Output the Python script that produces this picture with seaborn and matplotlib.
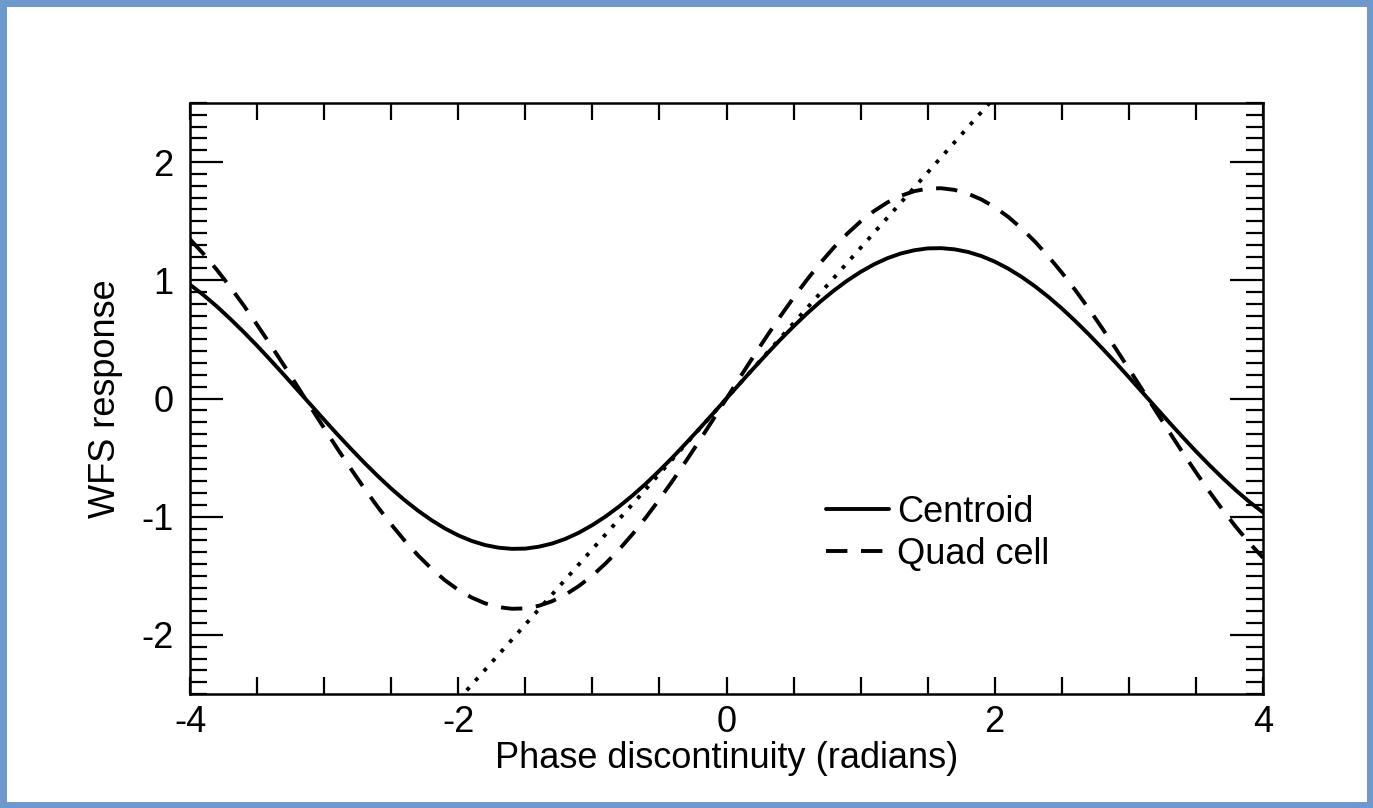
import matplotlib
matplotlib.use("Agg")
import matplotlib.pyplot as plt
import seaborn as sns
from matplotlib.patches import Rectangle
from matplotlib.ticker import MultipleLocator

phase = [-4.0, -3.9, -3.8, -3.7, -3.6, -3.5, -3.4, -3.3, -3.2, -3.1,
         -3.0, -2.9, -2.8, -2.7, -2.6, -2.5, -2.4, -2.3, -2.2, -2.1,
         -2.0, -1.9, -1.8, -1.7, -1.6, -1.5, -1.4, -1.3, -1.2, -1.1,
         -1.0, -0.9, -0.8, -0.7, -0.6, -0.5, -0.4, -0.3, -0.2, -0.1,
         0.0, 0.1, 0.2, 0.3, 0.4, 0.5, 0.6, 0.7, 0.8, 0.9,
         1.0, 1.1, 1.2, 1.3, 1.4, 1.5, 1.6, 1.7, 1.8, 1.9,
         2.0, 2.1, 2.2, 2.3, 2.4, 2.5, 2.6, 2.7, 2.8, 2.9,
         3.0, 3.1, 3.2, 3.3, 3.4, 3.5, 3.6, 3.7, 3.8, 3.9, 4.0]
centroid = [0.963, 0.876, 0.779, 0.674, 0.563, 0.447, 0.325, 0.201, 0.074, -0.053,
            -0.180, -0.305, -0.426, -0.544, -0.656, -0.762, -0.860, -0.949, -1.029, -1.099,
            -1.158, -1.205, -1.240, -1.262, -1.272, -1.270, -1.254, -1.227, -1.187, -1.135,
            -1.071, -0.997, -0.913, -0.820, -0.719, -0.610, -0.496, -0.376, -0.253, -0.127,
            0.000, 0.127, 0.253, 0.376, 0.496, 0.610, 0.719, 0.820, 0.913, 0.997,
            1.071, 1.135, 1.187, 1.227, 1.254, 1.270, 1.272, 1.262, 1.240, 1.205,
            1.158, 1.099, 1.029, 0.949, 0.860, 0.762, 0.656, 0.544, 0.426, 0.305,
            0.180, 0.053, -0.074, -0.201, -0.325, -0.447, -0.563, -0.674, -0.779, -0.876, -0.963]
quad_cell = [1.347, 1.224, 1.089, 0.943, 0.788, 0.624, 0.455, 0.281, 0.104, -0.074,
             -0.251, -0.426, -0.596, -0.761, -0.918, -1.065, -1.202, -1.327, -1.439, -1.537,
             -1.619, -1.684, -1.733, -1.765, -1.779, -1.776, -1.754, -1.715, -1.659, -1.586,
             -1.498, -1.394, -1.277, -1.147, -1.005, -0.853, -0.693, -0.526, -0.354, -0.178,
             0.000, 0.178, 0.354, 0.526, 0.693, 0.853, 1.005, 1.147, 1.277, 1.394,
             1.498, 1.586, 1.659, 1.715, 1.754, 1.776, 1.779, 1.765, 1.733, 1.684,
             1.619, 1.537, 1.439, 1.327, 1.202, 1.065, 0.918, 0.761, 0.596, 0.426,
             0.251, 0.074, -0.104, -0.281, -0.455, -0.624, -0.788, -0.943, -1.089, -1.224, -1.347]
# small-signal slope line
lin_x = [-2.0, 2.0]
lin_y = [-2.55, 2.55]

sns.set_theme(style="white")
plt.rcParams['font.family'] = ['Liberation Sans', 'DejaVu Sans']
plt.rcParams['axes.unicode_minus'] = False
fs = 26

fig = plt.figure(figsize=(13.73, 8.08), dpi=100, facecolor='#6d99cf')
fig.patches.append(Rectangle((7 / 1373, 6 / 808), 1360 / 1373, 795 / 808,
                             transform=fig.transFigure, facecolor='white',
                             edgecolor='none', zorder=-10))
ax = fig.add_axes([190 / 1373, 1 - 694 / 808, 1073 / 1373, 591 / 808])
ax.set_zorder(5)
ax.patch.set_alpha(0)

sns.lineplot(x=phase, y=centroid, ax=ax, color='black', linewidth=2.8, label='Centroid')
sns.lineplot(x=phase, y=quad_cell, ax=ax, color='black', linewidth=2.8,
             linestyle=(0, (5.5, 3.5)), label='Quad cell')
sns.lineplot(x=lin_x, y=lin_y, ax=ax, color='black', linewidth=2.8,
             linestyle=(0, (1, 2.3)))

ax.set_xlim(-4, 4)
ax.set_ylim(-2.5, 2.5)
ax.xaxis.set_major_locator(MultipleLocator(2))
ax.xaxis.set_minor_locator(MultipleLocator(0.5))
ax.yaxis.set_major_locator(MultipleLocator(1))
ax.yaxis.set_minor_locator(MultipleLocator(0.1))
ax.tick_params(which='both', direction='in', top=True, right=True,
               bottom=True, left=True,
               color='black', width=1.6, labelsize=fs, labelcolor='black')
ax.tick_params(axis='x', which='both', length=12, pad=8)
ax.tick_params(axis='y', which='major', length=24, pad=12)
ax.tick_params(axis='y', which='minor', length=12)
for s in ax.spines.values():
    s.set_color('black')
    s.set_linewidth(1.8)

ax.set_xlabel("Phase discontinuity (radians)", fontsize=fs, color='black', labelpad=1)
ax.set_ylabel("WFS response", fontsize=fs, color='black', labelpad=13)

handles, labels = ax.get_legend_handles_labels()
ax.legend(handles[:2], labels[:2], loc='upper left', bbox_to_anchor=(0.593, 0.337),
          frameon=False, fontsize=fs, handlelength=1.75, handletextpad=0.2,
          labelspacing=0.2, borderpad=0, borderaxespad=0, labelcolor='black')

fig.savefig("out.png", dpi=100, facecolor=fig.get_facecolor())
